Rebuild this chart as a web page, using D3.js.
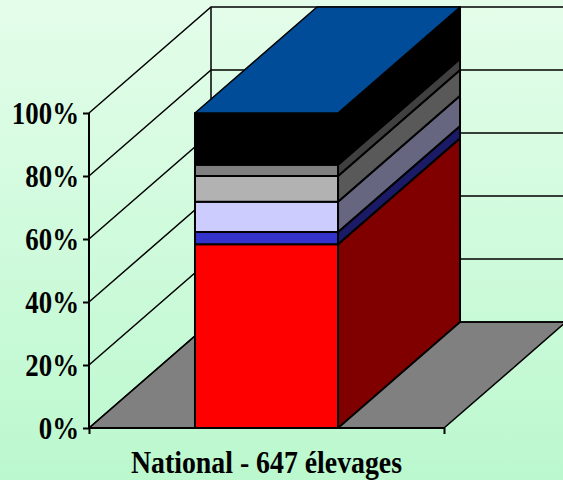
<!DOCTYPE html>
<html>
<head>
<meta charset="utf-8">
<script src="https://cdn.jsdelivr.net/npm/d3@7/dist/d3.min.js"></script>
<style>
  html, body { margin: 0; padding: 0; background: #c8f9d8; }
  svg { display: block; }
  text { font-family: "Liberation Serif", "Times New Roman", serif; font-weight: bold; fill: #000; }
</style>
</head>
<body>
<svg id="chart" width="563" height="480"></svg>
<script>
// Single stacked 3D column: shares per category, bottom to top.
const categories = ["National - 647 élevages"];
const seriesNames = ["a", "b", "c", "d", "e", "f"];
const seriesValues = [58.3, 3.9, 9.6, 8.2, 3.6, 16.4];
const frontColors = ["#ff0000", "#3333cc", "#ccccff", "#b2b2b2", "#808080", "#000000"];
const sideColors = ["#800000", "#1a1a66", "#666680", "#595959", "#404040", "#000000"];
const topColor = "#004c99";
const floorColor = "#808080";
const yTicks = [0, 20, 40, 60, 80, 100];

const W = 563, H = 480;
const depthX = 122, depthY = -106;
const fontSize = 32;
const yLabelSqueeze = 0.84, xLabelSqueeze = 0.869;

const svg = d3.select("#chart");

const defs = svg.append("defs");
const grad = defs.append("linearGradient").attr("id", "bg")
  .attr("x1", 0).attr("y1", 0).attr("x2", 0).attr("y2", 1);
grad.append("stop").attr("offset", "0%").attr("stop-color", "#e4fdea");
grad.append("stop").attr("offset", "100%").attr("stop-color", "#bbf8ce");
svg.append("rect").attr("width", W).attr("height", H).attr("fill", "url(#bg)");

const y = d3.scaleLinear().domain([0, 100]).range([428, 113]);
const x = d3.scaleBand().domain(categories).range([89, 444]).paddingOuter(0.741).paddingInner(0);
const xEdge = d3.scaleLinear().domain([0, 1]).range([89, 444]);

const line = d3.line();
const back = ([px, py]) => [px + depthX, py + depthY];
const face = pts => line(pts) + "Z";

// Floor of the 3D box
const x0 = xEdge(0), x1 = xEdge(1), y0 = y(0);
svg.append("path")
  .attr("d", face([[x0, y0], [x1, y0], back([x1, y0]), back([x0, y0])]))
  .attr("fill", floorColor).attr("stroke", "#000").attr("stroke-width", 1.5);

// Gridlines running along the side wall and the back wall
const grid = svg.append("g").attr("fill", "none").attr("stroke", "#000").attr("stroke-width", 1.5);
yTicks.forEach(t => {
  const p = [x0, y(t)], q = back(p), r = back([x1, y(t)]);
  grid.append("path").attr("d", line([p, q, r]));
});
grid.append("path").attr("d", line([back([x0, y(0)]), back([x0, y(100)])]));

// Stacked column
const rows = [Object.fromEntries(seriesNames.map((n, i) => [n, seriesValues[i]]))];
const stacked = d3.stack().keys(seriesNames)(rows);
const bx0 = x(categories[0]), bx1 = bx0 + x.bandwidth();
const bar = svg.append("g").attr("stroke", "#000").attr("stroke-width", 2).attr("stroke-linejoin", "round");

stacked.forEach((s, i) => {
  const yb = y(s[0][0]), yt = y(s[0][1]);
  bar.append("path")
    .attr("d", face([[bx1, yb], back([bx1, yb]), back([bx1, yt]), [bx1, yt]]))
    .attr("fill", sideColors[i]);
  bar.append("path")
    .attr("d", face([[bx0, yb], [bx1, yb], [bx1, yt], [bx0, yt]]))
    .attr("fill", frontColors[i]);
});
const yTop = y(d3.sum(seriesValues));
bar.append("path")
  .attr("d", face([[bx0, yTop], [bx1, yTop], back([bx1, yTop]), back([bx0, yTop])]))
  .attr("fill", topColor).attr("stroke-width", 1.5);

// Axes
const yAxis = svg.append("g").attr("transform", `translate(${x0},0)`)
  .call(d3.axisLeft(y).tickValues(yTicks).tickFormat(d => d + "%").tickSize(6));
yAxis.selectAll("path, line").attr("stroke", "#000").attr("stroke-width", 2);
yAxis.select(".domain").attr("d", line([[0, y(0)], [0, y(100)]]));
yAxis.selectAll("text")
  .attr("font-size", fontSize).attr("font-family", null)
  .attr("x", -10 / yLabelSqueeze).attr("dy", "0.34em")
  .attr("transform", `scale(${yLabelSqueeze},1)`);

const xAxis = svg.append("g").attr("transform", `translate(0,${y0})`)
  .call(d3.axisBottom(xEdge).tickValues([0, 1]).tickFormat("").tickSize(6));
xAxis.selectAll("path, line").attr("stroke", "#000").attr("stroke-width", 2);
xAxis.select(".domain").attr("d", line([[x0, 0], [x1, 0]]));

svg.append("text")
  .attr("text-anchor", "middle")
  .attr("font-size", fontSize)
  .attr("transform", `translate(${x(categories[0]) + x.bandwidth() / 2},473) scale(${xLabelSqueeze},1)`)
  .text(categories[0]);
</script>
</body>
</html>
